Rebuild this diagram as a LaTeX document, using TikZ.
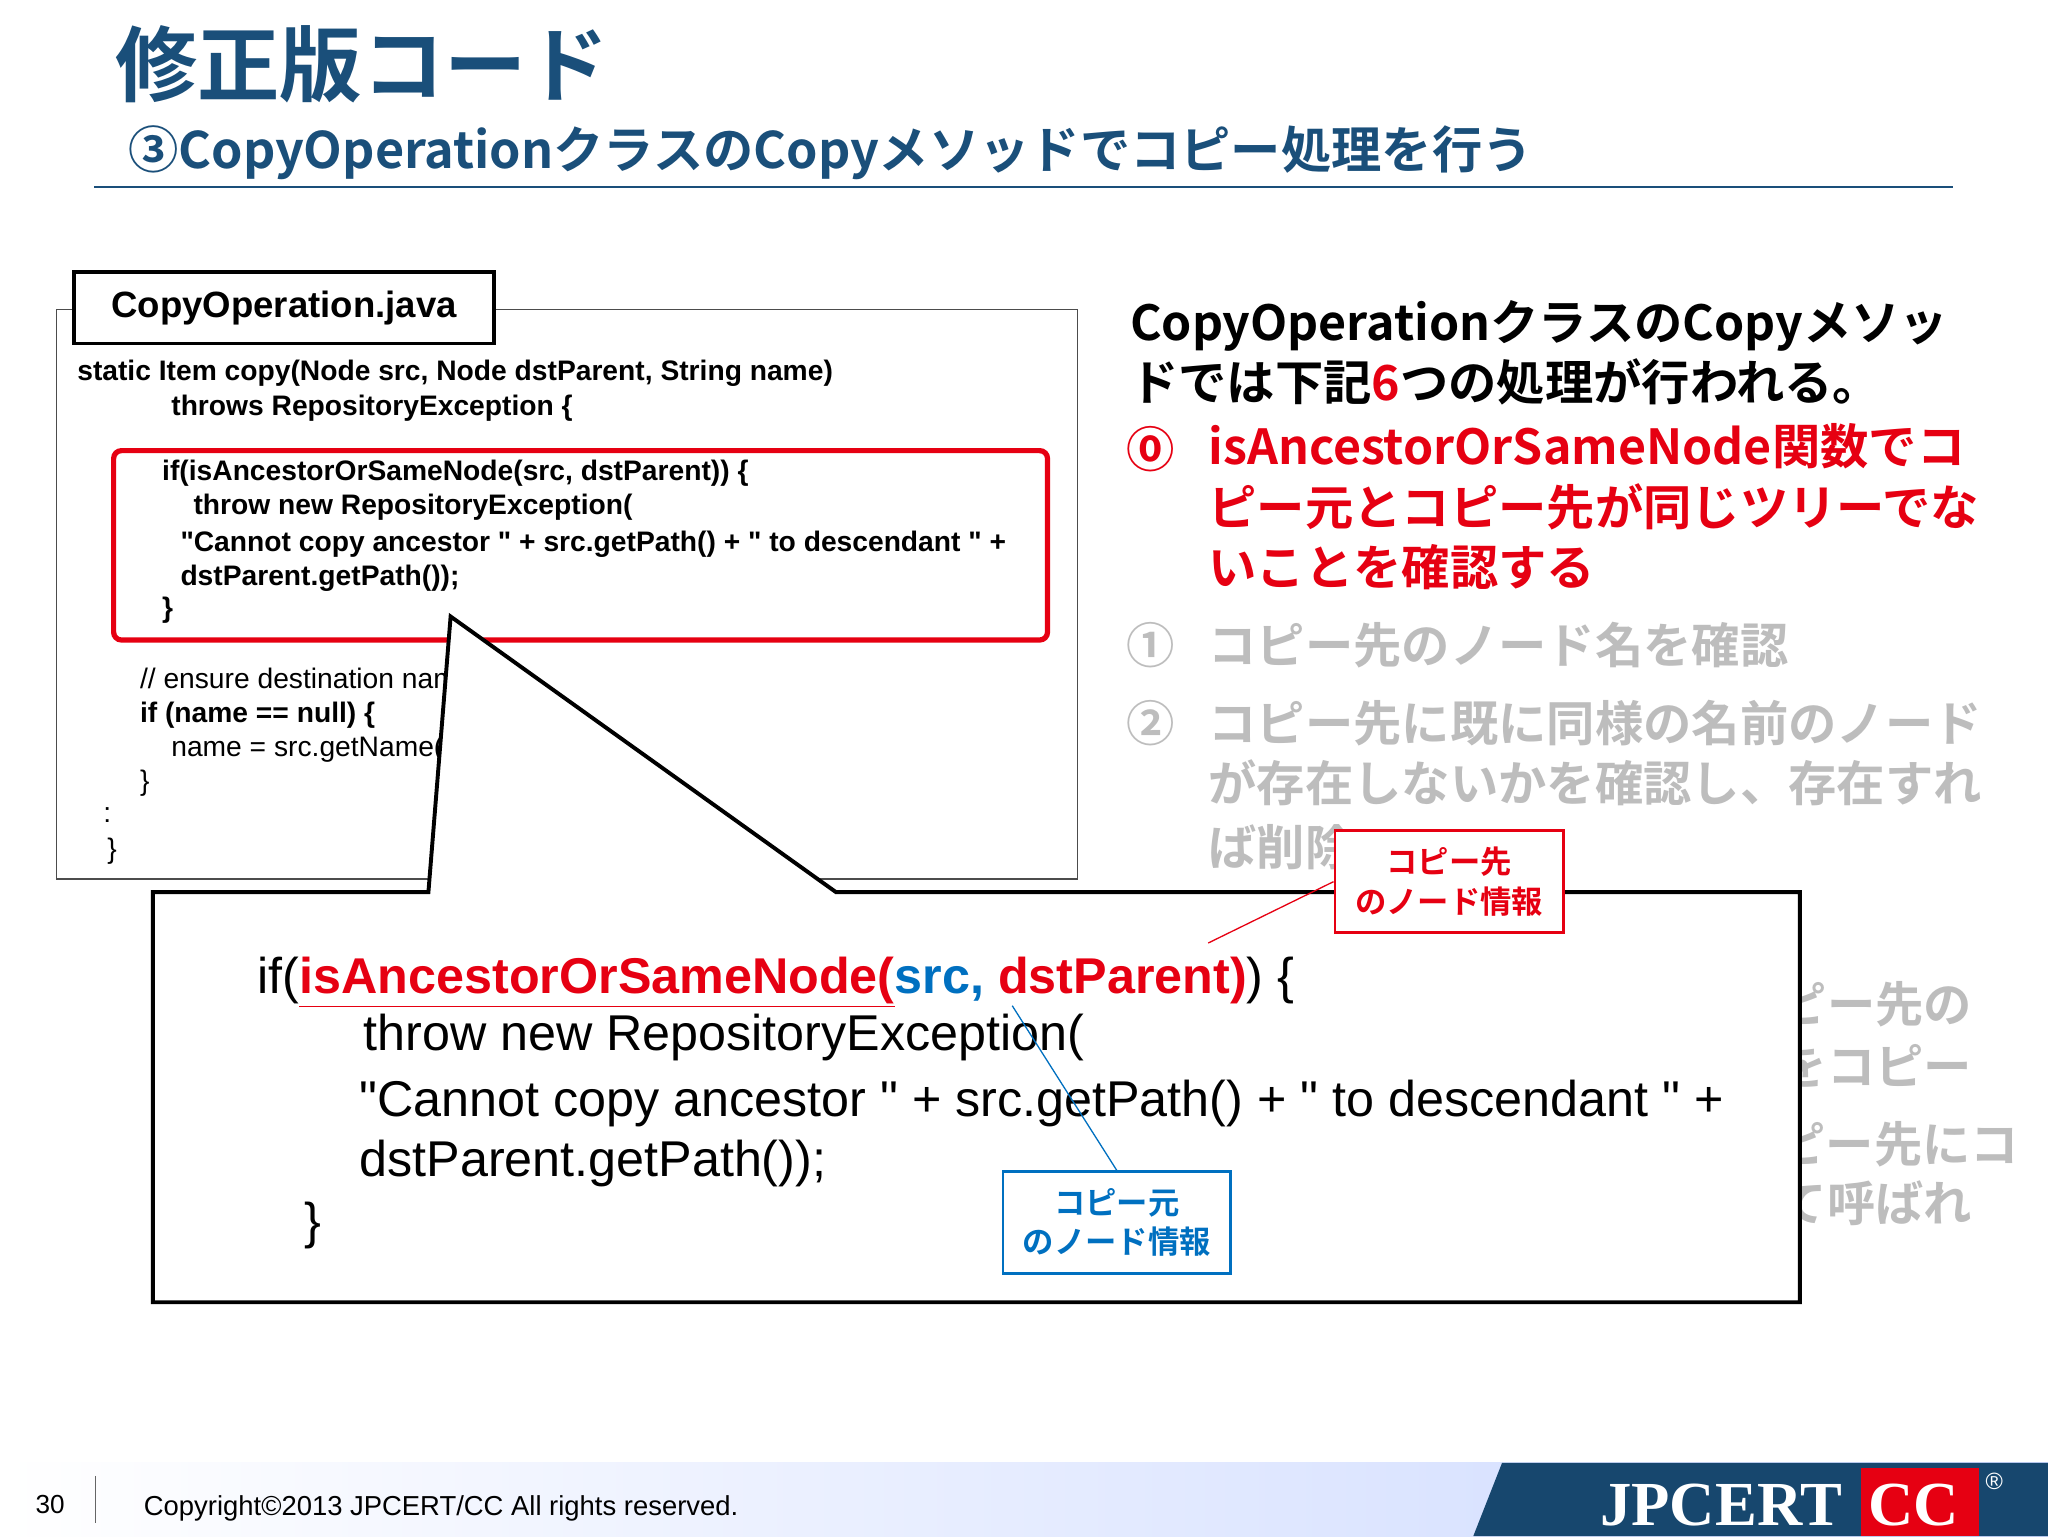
\documentclass[tikz,border=0pt]{standalone}
\usepackage{fontspec}
\setmainfont{Liberation Sans}[Ligatures=TeXOff]
\newfontfamily\jp{Noto Sans CJK JP Bold}
\usetikzlibrary{shadings}
\definecolor{ttl}{HTML}{1A4F7A}
\definecolor{rd}{HTML}{E60012}
\definecolor{bl}{HTML}{0070C0}
\definecolor{gr}{HTML}{BDBDBD}
\newcommand{\qq}{"}
\tikzset{t/.style={anchor=base west,inner sep=0pt},
 code/.style={t,font=\fontsize{21.6}{24}\selectfont\bfseries},
 codel/.style={t,font=\fontsize{21.6}{24}\selectfont},
 big/.style={t,font=\fontsize{38.5}{42}\selectfont},
 rt/.style={t,font=\jp\fontsize{37}{40}\selectfont},
 lab/.style={draw,line width=2pt,fill=white,align=center,inner sep=3pt,font=\jp\fontsize{24}{30}\selectfont}}
\begin{document}
\begin{tikzpicture}[x=1pt,y=-1pt]
\useasboundingbox (0,0) rectangle (1568,1176);
\fill[white] (0,0) rectangle (1568,1176);
% title
\node[t,text=ttl,font=\jp\fontsize{63}{66}\selectfont] (title) at (88,73) {修正版コード};
\node[t,text=ttl,font=\jp\fontsize{38.5}{40}\selectfont] (sub) at (98,129) {③CopyOperationクラスのCopyメソッドでコピー処理を行う};
\draw[ttl,line width=1.5pt] (72,143) -- (1495,143);
% code box
\draw[line width=1pt,black!70] (43,237) rectangle (825,673);
\node[draw,line width=3pt,fill=white,minimum width=321pt,minimum height=55pt,font=\fontsize{28}{30}\selectfont\bfseries] (fname) at (217.5,235.5) {CopyOperation.java};
\node[code] (c1) at (59,291) {static Item copy(Node src, Node dstParent, String name)};
\node[code] (c2) at (131,318) {throws RepositoryException \{};
\draw[rd,line width=4pt,rounded corners=6pt] (87,345) rectangle (802,490);
\node[code] (c3) at (124,368) {if(isAncestorOrSameNode(src, dstParent)) \{};
\node[code] (c4) at (148,394) {throw new RepositoryException(};
\node[code] (c5) at (138,422) {\qq Cannot copy ancestor \qq\ + src.getPath() + \qq\ to descendant \qq\ +};
\node[code] (c6) at (138,448) {dstParent.getPath());};
\node[code] (c7) at (124,473) {\}};
\node[codel] (c8) at (107,527) {// ensure destination name};
\node[code] (c9) at (107,553) {if (name == null) \{};
\node[codel] (c10) at (131,579) {name = src.getName();};
\node[codel] (c11) at (107,605) {\}};
\node[codel] (c12) at (79,630) {:};
\node[codel] (c13) at (82,657) {\}};
% right text
\node[rt] (r1) at (865,261) {CopyOperationクラスのCopyメソッ};
\node[rt] (r2) at (865,307) {ドでは下記\textcolor{rd}{6}つの処理が行われる。};
\node[rt,text=rd] (r3n) at (862,358) {⓪};
\node[rt,text=rd] (r3) at (925,356) {isAncestorOrSameNode関数でコ};
\node[rt,text=rd] (r4) at (925,402) {ピー元とコピー先が同じツリーでな};
\node[rt,text=rd] (r5) at (925,448) {いことを確認する};
\node[rt,text=gr] (g1n) at (862,508) {①};
\node[rt,text=gr] (g1) at (925,508) {コピー先のノード名を確認};
\node[rt,text=gr] (g2n) at (862,568) {②};
\node[rt,text=gr] (g2) at (925,568) {コピー先に既に同様の名前のノード};
\node[rt,text=gr] (g3) at (925,614) {が存在しないかを確認し、存在すれ};
\node[rt,text=gr] (g4) at (925,663) {ば削除};
\node[rt,text=gr,anchor=base east] (g5) at (1510,783) {コピー先の};
\node[rt,text=gr,anchor=base east] (g6) at (1510,830) {をコピー};
\node[rt,text=gr,anchor=base east] (g7) at (1546,890) {ピー先にコ};
\node[rt,text=gr,anchor=base east] (g8) at (1510,935) {て呼ばれ};
% callout
\draw[line width=3pt,fill=white,line join=miter] (117,683) -- (328,683) -- (345,472) -- (640,683) -- (1378,683) -- (1378,997) -- (117,997) -- cycle;
\node[big] (b1) at (197,761) {if(\textcolor{rd}{\bfseries\underline{isAncestorOrSameNode(}}\textcolor{bl}{\bfseries src,}\textcolor{rd}{\bfseries\ dstParent)}) \{};
\node[big] (b2) at (278,804) {throw new RepositoryException(};
\node[big] (b3) at (275,855) {\qq Cannot copy ancestor \qq\ + src.getPath() + \qq\ to descendant \qq\ +};
\node[big] (b4) at (275,901) {dstParent.getPath());};
\node[big] (b5) at (233,948) {\}};
% labels
\coordinate (bt) at (775,770);
\node[lab,draw=bl,text=bl,minimum width=174pt,minimum height=78pt] (lb) at (855,936) {コピー元\\のノード情報};
\draw[bl,line width=1pt] (lb.north) -- (bt);
\coordinate (rtip) at (925,722);
\node[lab,draw=rd,text=rd,minimum width=175pt,minimum height=78pt] (lr) at (1109.5,675) {コピー先\\のノード情報};
\draw[rd,line width=1pt] (lr.west) -- (rtip);
% footer
\shade[left color=white,right color=cyan!25!blue!20] (0,1120) rectangle (1568,1176);
\node[t,font=\fontsize{20}{24}\selectfont] (pg) at (27,1159) {30};
\draw[black!60,line width=1pt] (73,1130) -- (73,1166);
\node[t,font=\fontsize{21}{24}\selectfont] (copy) at (110,1160) {Copyright©2013 JPCERT/CC All rights reserved.};
\fill[ttl!90!black] (1150,1120) -- (1568,1120) -- (1568,1176) -- (1128,1176) -- cycle;
\fill[rd] (1425,1124) rectangle (1515,1176);
\node[t,text=white,font=\fontsize{48}{50}\selectfont] (jpc) at (1225,1168) {\setmainfont{Liberation Serif}\bfseries JPCERT};
\node[t,text=white,font=\fontsize{48}{50}\selectfont] (cc) at (1430,1168) {\setmainfont{Liberation Serif}\bfseries CC};
\node[t,text=white,font=\fontsize{18}{20}\selectfont] (reg) at (1520,1140) {®};
\end{tikzpicture}
\end{document}
